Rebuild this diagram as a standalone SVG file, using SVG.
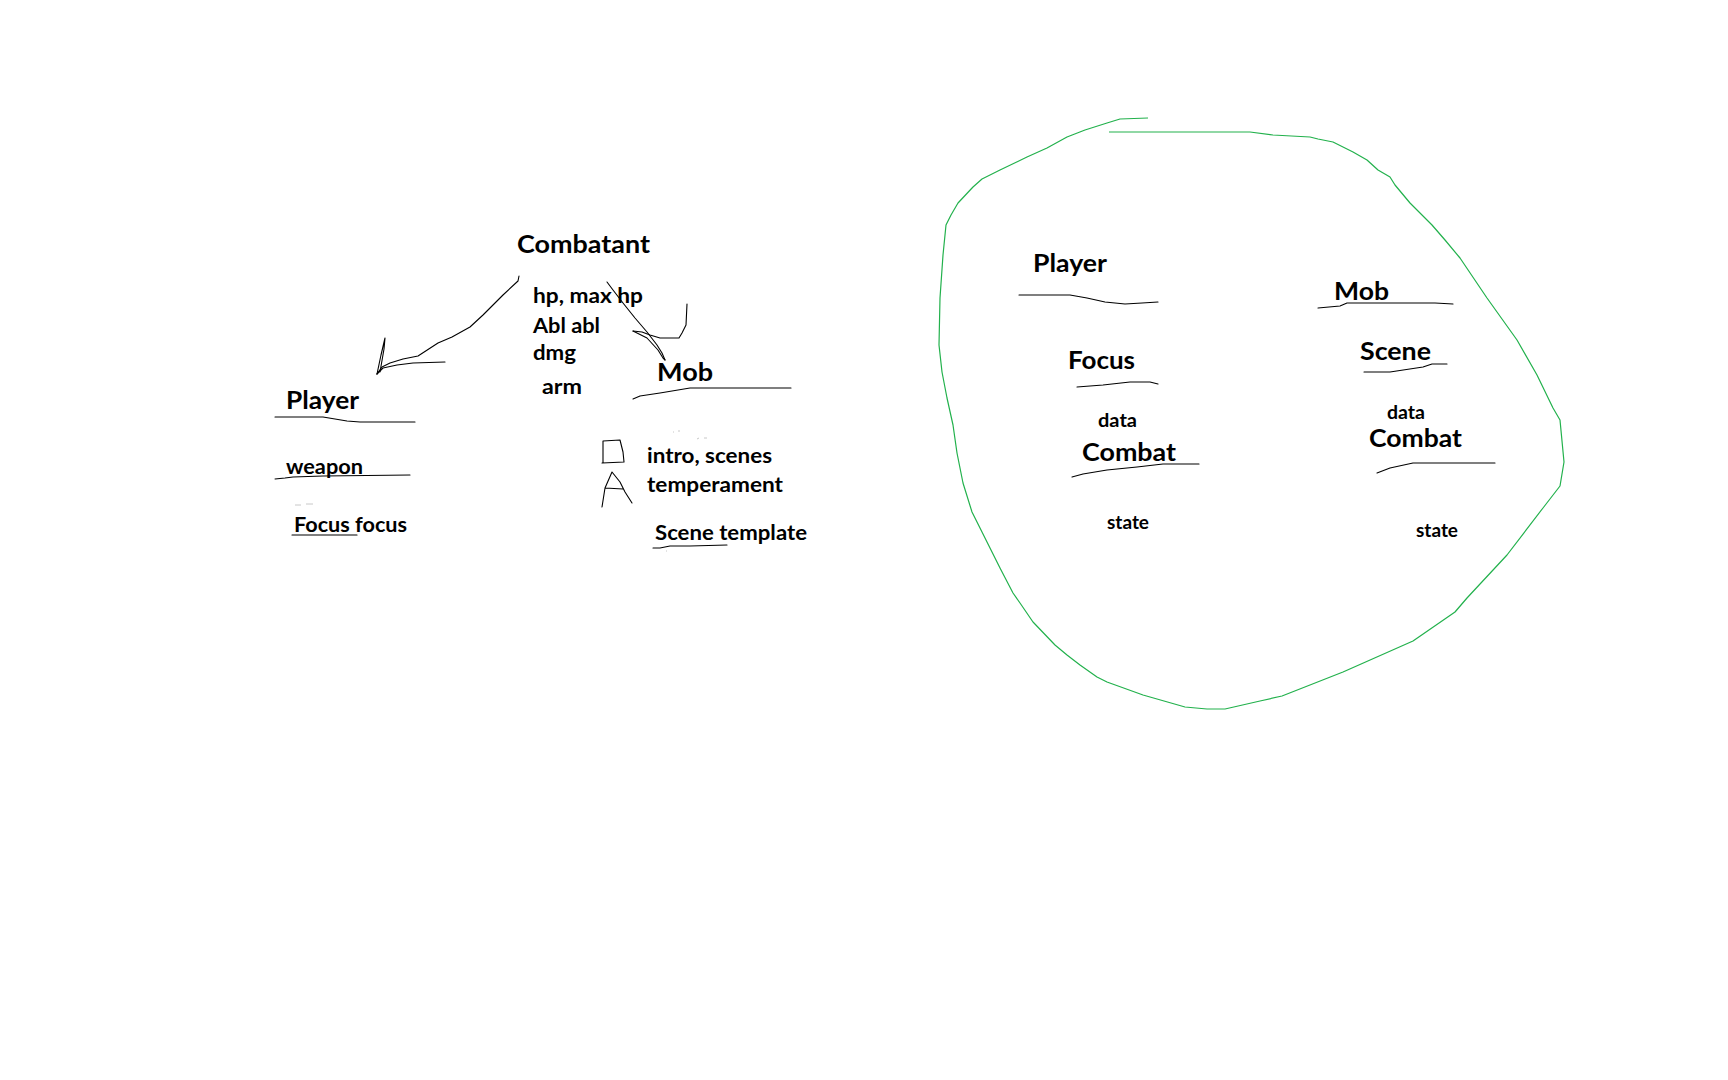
<svg xmlns="http://www.w3.org/2000/svg" width="1728" height="1080" viewBox="0 0 1728 1080">
<style>
  text { font-family: Lato, "Liberation Sans", sans-serif; font-weight: 700; fill: #000; }
  .big { font-size: 25.5px; }
  .mid { font-size: 21px; }
  .small { font-size: 18px; }
  .ink { fill: none; stroke: #000; stroke-width: 1.1; stroke-linejoin: round; stroke-linecap: round; }
  .faint { fill: none; stroke: #c8c8c8; stroke-width: 1; }
  .green { fill: none; stroke: #22b14c; stroke-width: 1.2; stroke-linejoin: round; }
</style>
<rect width="1728" height="1080" fill="#fff"/>

<g id="connectors">
  <g id="arrow-combatant-player">
    <path class="ink" d="M519,276 L518,281 L503,295 L483,315 L470,327 L452,337 L438,343 L418,356 L403,359 L390,363 L382,367 L377,374"/>
    <path class="ink" d="M377,374 L381,355 L385,338 L384,349 L380,372"/>
    <path class="ink" d="M377,374 L383,368 L397,365 L413,363 L445,362"/>
  </g>
  <g id="arrow-combatant-mob">
    <path class="ink" d="M607,282 L613,290 L623,303 L635,318 L647,332 L657,345 L662,353 L665,360"/>
    <path class="ink" d="M633,331 L647,338 L658,350 L663,358 L665,360"/>
    <path class="ink" d="M633,331 L642,332 L650,335 L660,338 L679,338 L682,333 L686,325 L687,304"/>
  </g>
</g>

<g id="combatant">
  <text class="big" x="517" y="253" textLength="133" lengthAdjust="spacingAndGlyphs">Combatant</text>
  <text class="mid" x="533" y="303" textLength="110" lengthAdjust="spacingAndGlyphs">hp, max hp</text>
  <text class="mid" x="533" y="333" textLength="67" lengthAdjust="spacingAndGlyphs">Abl abl</text>
  <text class="mid" x="533" y="360" textLength="43" lengthAdjust="spacingAndGlyphs">dmg</text>
  <text class="mid" x="542" y="394" textLength="40" lengthAdjust="spacingAndGlyphs">arm</text>
</g>

<g id="player-left">
  <text class="big" x="286" y="409" textLength="73" lengthAdjust="spacingAndGlyphs">Player</text>
  <path class="ink" d="M275,417 L323,417 L347,421 L360,422 L415,422"/>
  <text class="mid" x="286" y="474" textLength="77" lengthAdjust="spacingAndGlyphs">weapon</text>
  <path class="ink" d="M275,479 L285,478 L293,477 L323,476 L410,475"/>
  <path class="faint" d="M295,505 L301,505 M306,504 L313,504"/>
  <text class="mid" x="294" y="532" textLength="113" lengthAdjust="spacingAndGlyphs">Focus focus</text>
  <path class="ink" d="M292,535 L357,535"/>
</g>

<g id="mob-left">
  <text class="big" x="657" y="381" textLength="56" lengthAdjust="spacingAndGlyphs">Mob</text>
  <path class="ink" d="M633,399 L640,396 L660,393 L690,388 L791,388"/>
  <path class="faint" d="M673,432 L674,432 M678,431 L680,431 M697,439 L699,438 M704,438 L707,438"/>
  <path class="ink" d="M603,441 L620,440 L623,452 L624,462 L602,463 M603,441 L603,463"/>
  <path class="ink" d="M602,507 L605,488 L612,472 L620,482 L625,492 L632,503 M605,488 L623,489"/>
  <text class="mid" x="647" y="463" textLength="125" lengthAdjust="spacingAndGlyphs">intro, scenes</text>
  <text class="mid" x="647" y="492" textLength="136" lengthAdjust="spacingAndGlyphs">temperament</text>
  <text class="mid" x="655" y="540" textLength="152" lengthAdjust="spacingAndGlyphs">Scene template</text>
  <path class="ink" d="M653,548 L660,548 L670,546 L690,546 L727,545"/>
  <path class="faint" d="M666,551 L667,551"/>
</g>

<g id="boundary">
  <path class="green" d="M1148,118 L1120,119 L1107,123 L1085,130 L1067,137 L1047,148 L1027,157 L1000,170 L982,179 L973,187 L958,203 L951,215 L946,225 L943,255 L940,298 L939,345 L942,372 L947,398 L953,425 L957,453 L963,483 L972,512 L982,532 L1000,568 L1013,593 L1020,603 L1033,622 L1055,645 L1067,655 L1080,665 L1097,677 L1107,682 L1143,695 L1185,707 L1207,709 L1225,709 L1260,701 L1282,696 L1343,672 L1413,641 L1455,612 L1467,598 L1507,555 L1543,508 L1560,486 L1564,462 L1560,420 L1553,408 L1537,375 L1517,340 L1487,298 L1460,258 L1445,240 L1432,225 L1410,203 L1395,185 L1390,177 L1378,170 L1367,160 L1353,152 L1333,142 L1318,139 L1310,137 L1273,135 L1250,132 L1109,132"/>
</g>

<g id="player-right">
  <text class="big" x="1033" y="272" textLength="74" lengthAdjust="spacingAndGlyphs">Player</text>
  <path class="ink" d="M1019,295 L1070,295 L1087,298 L1105,302 L1125,304 L1142,303 L1158,302"/>
</g>

<g id="focus-right">
  <text class="big" x="1068" y="369" textLength="67" lengthAdjust="spacingAndGlyphs">Focus</text>
  <path class="ink" d="M1077,387 L1103,385 L1130,382 L1150,382 L1158,384"/>
</g>

<g id="combat-left">
  <text class="small" x="1098" y="427" textLength="39" lengthAdjust="spacingAndGlyphs">data</text>
  <text class="big" x="1082" y="461" textLength="94" lengthAdjust="spacingAndGlyphs">Combat</text>
  <path class="ink" d="M1072,477 L1083,474 L1107,470 L1137,467 L1163,464 L1199,464"/>
  <text class="small" x="1107" y="529" textLength="42" lengthAdjust="spacingAndGlyphs">state</text>
</g>

<g id="mob-right">
  <text class="big" x="1334" y="300" textLength="55" lengthAdjust="spacingAndGlyphs">Mob</text>
  <path class="ink" d="M1318,308 L1340,306 L1347,303 L1435,303 L1453,304"/>
</g>

<g id="scene-right">
  <text class="big" x="1360" y="360" textLength="71" lengthAdjust="spacingAndGlyphs">Scene</text>
  <path class="ink" d="M1364,372 L1390,372 L1423,367 L1432,364 L1447,364"/>
</g>

<g id="combat-right">
  <text class="small" x="1387" y="419" textLength="38" lengthAdjust="spacingAndGlyphs">data</text>
  <text class="big" x="1369" y="447" textLength="93" lengthAdjust="spacingAndGlyphs">Combat</text>
  <path class="ink" d="M1377,473 L1390,468 L1413,463 L1495,463"/>
  <text class="small" x="1416" y="537" textLength="42" lengthAdjust="spacingAndGlyphs">state</text>
</g>
</svg>
